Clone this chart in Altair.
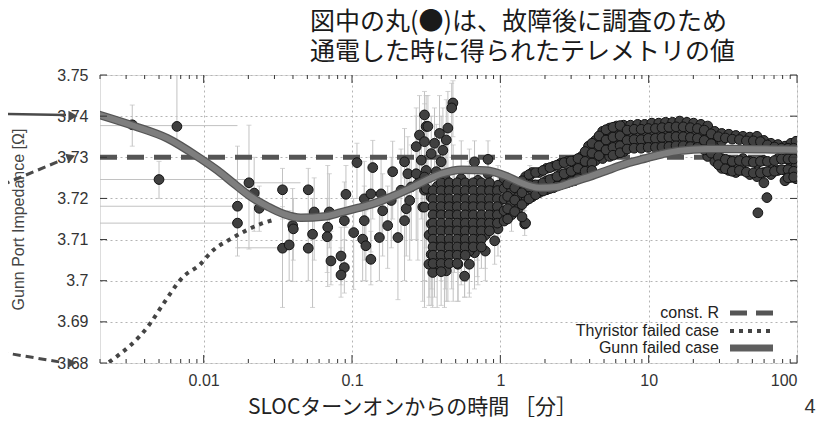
import altair as alt
import pandas as pd

# ---------------- data ----------------
# time since SLOC turn-on [min] and Gunn port impedance [ohm]
# telemetry points with vertical error bars (lo / hi)
pts_t = [0.0033, 0.0066, 0.0050, 0.0202, 0.0219, 0.0169, 0.0169, 0.0237, 0.034, 0.0398,
         0.0402, 0.034, 0.0377, 0.0507, 0.0556, 0.0542, 0.0507, 0.0703, 0.0686, 0.0680,
         0.0721, 0.0843, 0.0888, 0.0843, 0.0910, 0.0888, 0.1026, 0.108, 0.138, 0.118,
         0.124, 0.134, 0.121, 0.134, 0.121, 0.153, 0.157, 0.161, 0.174, 0.184,
         0.188, 0.204, 0.214, 0.226, 0.226, 0.238, 0.232, 0.251, 0.271, 0.271,
         0.285, 0.308, 0.316, 0.308, 0.293, 0.308, 0.300, 0.278, 0.245, 0.479,
         0.470, 0.325, 0.389, 0.443, 0.432, 0.360, 0.342, 0.410, 0.399, 0.316,
         0.370, 0.308, 0.670, 0.826, 0.706, 0.826, 0.964,
         0.316, 0.410, 0.342, 0.308, 0.420, 0.545, 0.670, 0.826, 1.000, 1.190,
         1.460, 1.580, 1.710, 1.460, 0.342, 0.399, 0.491, 0.605, 0.470, 0.574,
         0.745, 0.964, 0.916, 0.360, 0.443, 0.574, 0.706, 0.342, 0.420, 0.518,
         0.670, 0.518, 0.399, 0.432, 0.574, 0.375, 0.481, 0.545, 0.618, 0.700,
         0.792, 0.897, 0.375, 0.481, 0.618, 0.792, 0.897, 0.425, 0.545, 0.700,
         0.792, 0.331, 0.481, 0.618, 0.792, 0.375, 0.618, 0.545, 0.425, 0.700,
         0.330, 0.350]
pts_v = [3.7379, 3.7375, 3.7246, 3.7238, 3.7213, 3.7181, 3.7140, 3.7176, 3.7221, 3.7134,
         3.7126, 3.7079, 3.7087, 3.7221, 3.7167, 3.7113, 3.7079, 3.7167, 3.7130, 3.7107,
         3.7048, 3.7060, 3.7032, 3.7014, 3.7210, 3.7146, 3.7117, 3.7287, 3.7275, 3.7101,
         3.7085, 3.7052, 3.7199, 3.7211, 3.7146, 3.7105, 3.7211, 3.7170, 3.7134, 3.7195,
         3.7265, 3.7105, 3.7220, 3.7146, 3.7289, 3.7260, 3.7175, 3.7228, 3.7260, 3.7326,
         3.7354, 3.7403, 3.7375, 3.7338, 3.7293, 3.7220, 3.7179, 3.7236, 3.7195, 3.7432,
         3.7420, 3.7375, 3.7358, 3.7371, 3.7342, 3.7334, 3.7309, 3.7317, 3.7289, 3.7268,
         3.7265, 3.7252, 3.7289, 3.7295, 3.7244, 3.7260, 3.7232,
         3.7224, 3.7220, 3.7203, 3.7179, 3.7191, 3.7207, 3.7195, 3.7220, 3.7195, 3.7162,
         3.7195, 3.7256, 3.7228, 3.7138, 3.7138, 3.7162, 3.7162, 3.7162, 3.7130, 3.7130,
         3.7130, 3.7126, 3.7097, 3.7097, 3.7089, 3.7089, 3.7089, 3.7064, 3.7060, 3.7064,
         3.7068, 3.7040, 3.7028, 3.7024, 3.7011, 3.7229, 3.7229, 3.7248, 3.7229, 3.7209,
         3.7189, 3.7209, 3.7170, 3.7189, 3.7189, 3.7150, 3.7160, 3.7131, 3.7111, 3.7111,
         3.7111, 3.7111, 3.7072, 3.7072, 3.7072, 3.7052, 3.7040, 3.7150, 3.7248, 3.7150,
         3.7040, 3.7020]
pts_lo = [3.7327, 3.7330, 3.7200, 3.7077, 3.7120, 3.7060, 3.7080, 3.7120, 3.7150, 3.6998,
          3.7050, 3.6935, 3.7000, 3.7150, 3.7050, 3.6935, 3.7000, 3.7080, 3.6986, 3.7020,
          3.6990, 3.6990, 3.6970, 3.6960, 3.7130, 3.7040, 3.6979, 3.7200, 3.7150, 3.7000,
          3.7000, 3.6990, 3.7100, 3.7070, 3.7050, 3.7000, 3.7100, 3.7060, 3.7030, 3.7080,
          3.7150, 3.6954, 3.7100, 3.7000, 3.7180, 3.7150, 3.7060, 3.7100, 3.7100, 3.7200,
          3.7250, 3.7300, 3.7250, 3.7200, 3.7150, 3.6935, 3.6950, 3.7050, 3.7050, 3.7350,
          3.7300, 3.7250, 3.7200, 3.7250, 3.7200, 3.7150, 3.7100, 3.7150, 3.7100, 3.7050,
          3.7050, 3.7000, 3.7200, 3.7220, 3.7150, 3.7180, 3.7150,
          3.7080, 3.7060, 3.7050, 3.7000, 3.7040, 3.7100, 3.7100, 3.7150, 3.7150, 3.7120,
          3.7160, 3.7230, 3.7200, 3.7110, 3.6980, 3.7000, 3.7020, 3.7050, 3.6980, 3.7000,
          3.7030, 3.7060, 3.7040, 3.6960, 3.6950, 3.6960, 3.6990, 3.6940, 3.6935, 3.6950,
          3.6980, 3.6950, 3.6940, 3.6950, 3.6960, 3.7080, 3.7100, 3.7120, 3.7120, 3.7110,
          3.7100, 3.7140, 3.7020, 3.7050, 3.7070, 3.7070, 3.7090, 3.6980, 3.6990, 3.7010,
          3.7030, 3.6960, 3.6950, 3.6970, 3.7000, 3.6935, 3.6960, 3.7020, 3.7100, 3.7050,
          3.6940, 3.6935]
pts_hi = [3.7427, 3.7505, 3.7290, 3.7378, 3.7300, 3.7327, 3.7200, 3.7230, 3.7273, 3.7224,
          3.7200, 3.7180, 3.7170, 3.7273, 3.7250, 3.7200, 3.7150, 3.7260, 3.7280, 3.7200,
          3.7120, 3.7130, 3.7100, 3.7080, 3.7280, 3.7240, 3.7200, 3.7334, 3.7341, 3.7200,
          3.7170, 3.7120, 3.7290, 3.7300, 3.7230, 3.7200, 3.7300, 3.7260, 3.7230, 3.7300,
          3.7339, 3.7200, 3.7320, 3.7250, 3.7370, 3.7350, 3.7280, 3.7330, 3.7400, 3.7420,
          3.7450, 3.7460, 3.7450, 3.7430, 3.7400, 3.7350, 3.7300, 3.7350, 3.7300, 3.7486,
          3.7480, 3.7450, 3.7450, 3.7460, 3.7440, 3.7420, 3.7400, 3.7420, 3.7400, 3.7380,
          3.7380, 3.7360, 3.7340, 3.7340, 3.7300, 3.7300, 3.7280,
          3.7330, 3.7320, 3.7310, 3.7300, 3.7300, 3.7300, 3.7280, 3.7290, 3.7240, 3.7200,
          3.7230, 3.7280, 3.7260, 3.7170, 3.7250, 3.7270, 3.7270, 3.7260, 3.7240, 3.7240,
          3.7220, 3.7190, 3.7160, 3.7200, 3.7200, 3.7200, 3.7180, 3.7170, 3.7170, 3.7170,
          3.7160, 3.7130, 3.7120, 3.7110, 3.7080, 3.7340, 3.7330, 3.7340, 3.7320, 3.7300,
          3.7270, 3.7270, 3.7290, 3.7300, 3.7290, 3.7230, 3.7230, 3.7250, 3.7220, 3.7200,
          3.7190, 3.7230, 3.7180, 3.7170, 3.7150, 3.7160, 3.7120, 3.7260, 3.7360, 3.7240,
          3.7140, 3.7110]

# horizontal error bars of the earliest points
hbar_v = [3.7377, 3.7246, 3.7181, 3.7140, 3.7080, 3.7238]
hbar_lo = [0.002, 0.002, 0.002, 0.002, 0.0169, 0.020]
hbar_hi = [0.0169, 0.0199, 0.0169, 0.0175, 0.033, 0.045]

# dense blob of telemetry points between 0.3 and 1 minute
blob_t = [0.352] * 10 + [0.399] * 12 + [0.452] * 11 + [0.512] * 11 + [0.580] * 10 + \
         [0.657] * 9 + [0.745] * 9 + [0.844] * 7 + [0.955] * 5
blob_v = [3.7219, 3.7199, 3.7180, 3.7160, 3.7140, 3.7121, 3.7101, 3.7082, 3.7062, 3.7042,
          3.7238, 3.7219, 3.7199, 3.7180, 3.7160, 3.7140, 3.7121, 3.7101, 3.7082, 3.7062, 3.7042, 3.7022,
          3.7238, 3.7219, 3.7199, 3.7180, 3.7160, 3.7140, 3.7121, 3.7101, 3.7082, 3.7062, 3.7042,
          3.7238, 3.7219, 3.7199, 3.7180, 3.7160, 3.7140, 3.7121, 3.7101, 3.7082, 3.7062, 3.7042,
          3.7238, 3.7219, 3.7199, 3.7180, 3.7160, 3.7140, 3.7121, 3.7101, 3.7082, 3.7062,
          3.7238, 3.7219, 3.7199, 3.7180, 3.7160, 3.7140, 3.7121, 3.7101, 3.7082,
          3.7238, 3.7219, 3.7199, 3.7180, 3.7160, 3.7140, 3.7121, 3.7101, 3.7082,
          3.7238, 3.7219, 3.7199, 3.7180, 3.7160, 3.7140, 3.7121,
          3.7219, 3.7199, 3.7180, 3.7160, 3.7140]

# dense band of telemetry points after 1 minute
band_t = [1.06, 1.06, 1.06, 1.06, 1.06, 1.19, 1.19, 1.19, 1.32, 1.32, 1.32,
          1.48, 1.48, 1.48, 1.48, 1.64, 1.64, 1.64, 1.83, 1.83, 1.83,
          2.05, 2.05, 2.05, 2.28, 2.28, 2.28, 2.54, 2.54, 2.54, 2.84, 2.84, 2.84,
          3.16, 3.16, 3.16, 3.53, 3.53, 3.53, 3.93, 3.93, 3.93, 3.93,
          4.38, 4.38, 4.38, 4.89, 4.89, 4.89, 4.89, 5.45, 5.45, 5.45, 5.45,
          6.08, 6.08, 6.08, 6.08, 6.78, 6.78, 6.78, 6.78, 7.55, 7.55, 7.55,
          8.43, 8.43, 8.43, 9.40, 9.40, 9.40, 10.5, 10.5, 10.5, 11.7, 11.7, 11.7,
          13.0, 13.0, 13.0, 14.5, 14.5, 14.5, 16.2, 16.2, 16.2, 18.1, 18.1, 18.1,
          20.1, 20.1, 20.1, 22.5, 22.5, 22.5, 25.0, 25.0, 25.0, 25.0,
          27.9, 27.9, 27.9, 31.1, 31.1, 31.1, 31.1, 34.7, 34.7, 34.7,
          38.7, 38.7, 38.7, 43.2, 43.2, 43.2, 48.1, 48.1, 48.1, 53.7, 53.7, 53.7,
          59.8, 59.8, 59.8, 59.8, 66.7, 66.7, 66.7, 74.4, 74.4, 74.4,
          83.0, 83.0, 83.0, 83.0, 91.0, 91.0, 91.0, 91.0, 98.5, 98.5, 98.5, 98.5,
          54.5, 62.7]
band_v = [3.7248, 3.7224, 3.7199, 3.7170, 3.7145, 3.7219, 3.7189, 3.7160, 3.7233, 3.7204, 3.7175,
          3.7253, 3.7224, 3.7194, 3.7140, 3.7263, 3.7233, 3.7204, 3.7263, 3.7233, 3.7214,
          3.7273, 3.7243, 3.7221, 3.7278, 3.7248, 3.7226, 3.7285, 3.7258, 3.7233, 3.7290, 3.7263, 3.7238,
          3.7292, 3.7268, 3.7243, 3.7302, 3.7278, 3.7253, 3.7327, 3.7302, 3.7278, 3.7260,
          3.7341, 3.7317, 3.7292, 3.7363, 3.7339, 3.7314, 3.7297, 3.7371, 3.7346, 3.7322, 3.7302,
          3.7376, 3.7351, 3.7327, 3.7309, 3.7378, 3.7353, 3.7329, 3.7314, 3.7378, 3.7353, 3.7329,
          3.7380, 3.7356, 3.7331, 3.7380, 3.7356, 3.7331, 3.7383, 3.7358, 3.7334, 3.7383, 3.7358, 3.7334,
          3.7385, 3.7361, 3.7336, 3.7385, 3.7361, 3.7336, 3.7388, 3.7363, 3.7339, 3.7385, 3.7361, 3.7336,
          3.7383, 3.7358, 3.7334, 3.7380, 3.7356, 3.7331, 3.7376, 3.7351, 3.7327, 3.7302,
          3.7363, 3.7339, 3.7290, 3.7358, 3.7339, 3.7297, 3.7273, 3.7356, 3.7292, 3.7268,
          3.7353, 3.7287, 3.7263, 3.7351, 3.7297, 3.7268, 3.7349, 3.7290, 3.7258, 3.7351, 3.7285, 3.7253,
          3.7341, 3.7292, 3.7263, 3.7238, 3.7334, 3.7287, 3.7258, 3.7331, 3.7297, 3.7268,
          3.7327, 3.7297, 3.7268, 3.7243, 3.7334, 3.7309, 3.7280, 3.7251, 3.7339, 3.7309, 3.7280, 3.7248,
          3.7165, 3.7202]
# staggered dots that fill the band
band2_t = [1.12] * 4 + [1.25] * 3 + [1.40] * 4 + [1.56] * 3 + [1.73] * 3 + [1.94] * 3 + \
          [2.16] * 3 + [2.41] * 3 + [2.69] * 3 + [3.00] * 3 + [3.34] * 3 + [3.73] * 3 + \
          [4.15] * 4 + [4.63] * 3 + [5.16] * 3 + [5.75] * 4 + [6.42] * 4 + [7.16] * 3 + \
          [7.98] * 3 + [8.90] * 3 + [9.93] * 3 + [11.1] * 3 + [12.3] * 3 + [13.7] * 3 + \
          [15.3] * 3 + [17.1] * 3 + [19.1] * 3 + [21.3] * 3 + [23.7] * 3 + [26.4] * 3 + \
          [29.5] * 3 + [32.9] * 3 + [36.6] * 3 + [40.9] * 3 + [45.6] * 3 + [50.8] * 3 + \
          [56.7] * 3 + [63.2] * 3 + [70.5] * 3 + [78.6] * 3 + [87.0] * 4 + [95.0] * 4
band2_v = [3.7235, 3.7205, 3.7175, 3.7150, 3.7226, 3.7196, 3.7168,
           3.7243, 3.7214, 3.7185, 3.7155, 3.7258, 3.7228, 3.7199, 3.7263, 3.7233, 3.7209,
           3.7268, 3.7238, 3.7218, 3.7275, 3.7246, 3.7224, 3.7281, 3.7253, 3.7230,
           3.7287, 3.7260, 3.7236, 3.7291, 3.7266, 3.7241, 3.7297, 3.7273, 3.7248,
           3.7314, 3.7290, 3.7266, 3.7334, 3.7310, 3.7286, 3.7268, 3.7352, 3.7328, 3.7304,
           3.7367, 3.7342, 3.7318, 3.7373, 3.7349, 3.7324, 3.7305, 3.7377, 3.7352, 3.7328, 3.7311,
           3.7366, 3.7341, 3.7320, 3.7368, 3.7343, 3.7322, 3.7368, 3.7343, 3.7322,
           3.7370, 3.7346, 3.7324, 3.7370, 3.7346, 3.7324, 3.7372, 3.7348, 3.7325,
           3.7373, 3.7349, 3.7326, 3.7374, 3.7350, 3.7328, 3.7374, 3.7350, 3.7328,
           3.7372, 3.7348, 3.7326, 3.7370, 3.7346, 3.7324, 3.7366, 3.7341, 3.7318,
           3.7357, 3.7333, 3.7310, 3.7350, 3.7300, 3.7282, 3.7347, 3.7295, 3.7272,
           3.7344, 3.7290, 3.7266, 3.7343, 3.7292, 3.7268, 3.7340, 3.7290, 3.7264,
           3.7340, 3.7288, 3.7262, 3.7338, 3.7290, 3.7262, 3.7330, 3.7290, 3.7265,
           3.7325, 3.7292, 3.7266, 3.7322, 3.7296, 3.7270, 3.7322, 3.7296, 3.7270, 3.7250,
           3.7322, 3.7296, 3.7266, 3.7252]

# model curves
gunn_t = [0.0019, 0.0034, 0.0057, 0.0095, 0.0124, 0.016, 0.0208, 0.0271, 0.0347, 0.0452,
          0.0647, 0.0843, 0.110, 0.141, 0.184, 0.238, 0.308, 0.40, 0.55, 0.80,
          1.1, 1.34, 1.83, 2.4, 3.07, 4.0, 5.7, 7.4, 9.7, 12.4,
          16.2, 25.0, 40.0, 70.0, 105.0]
gunn_v = [3.7405, 3.7376, 3.7346, 3.7297, 3.7268, 3.7236, 3.7204, 3.7180, 3.7162, 3.7153,
          3.7156, 3.7166, 3.7177, 3.7188, 3.7204, 3.7222, 3.7242, 3.7260, 3.7270, 3.7268,
          3.7254, 3.7240, 3.7226, 3.7228, 3.7240, 3.7253, 3.7273, 3.7287, 3.7298, 3.7308,
          3.7316, 3.7320, 3.7320, 3.7319, 3.7318]
thy_t = [0.0023, 0.0044, 0.0053, 0.0073, 0.0095, 0.0112, 0.016, 0.0243, 0.0297]
thy_v = [3.6802, 3.6898, 3.6942, 3.7010, 3.7040, 3.7069, 3.7106, 3.7138, 3.7148]
constr_t = [0.002, 100.0]
constr_v = [3.73, 3.73]

# axes
x_major = [0.01, 0.1, 1, 10, 100]
x_minor = [0.002, 0.003, 0.004, 0.005, 0.006, 0.007, 0.008, 0.009,
           0.02, 0.03, 0.04, 0.05, 0.06, 0.07, 0.08, 0.09,
           0.2, 0.3, 0.4, 0.5, 0.6, 0.7, 0.8, 0.9,
           2, 3, 4, 5, 6, 7, 8, 9,
           20, 30, 40, 50, 60, 70, 80, 90]
y_ticks = [3.68, 3.69, 3.70, 3.71, 3.72, 3.73, 3.74, 3.75]
legend_labels = ["const. R", "Thyristor failed case", "Gunn failed case"]
title_lines = ["図中の丸(●)は、故障後に調査のため", "通電した時に得られたテレメトリの値"]
x_title = "SLOCターンオンからの時間 ［分］"
y_title = "Gunn Port Impedance [Ω]"
page_no = "4"

# ---------------- chart ----------------
W, H = 697, 288
FONT = "Liberation Sans"
JFONT = "Noto Sans CJK JP"

xs = alt.Scale(type="log", domain=[0.002, 100], nice=False)
ys = alt.Scale(domain=[3.68, 3.75], zero=False, nice=False)

x_axis = alt.Axis(values=x_major, format="~g", title=x_title, grid=True, ticks=False, tickSize=0,
                  domain=False, labelFont=FONT, labelFontSize=16, labelColor="#333",
                  labelPadding=9, gridColor="#b4b4b4", gridDash=[2, 3], gridWidth=1,
                  titleFont=JFONT, titleFontSize=21, titleFontWeight="normal", titleColor="#222",
                  titleX=312, titleY=44, titleAlign="center", titleBaseline="middle")
y_axis = alt.Axis(values=y_ticks, format=".3~g", title=y_title, grid=True, ticks=False, tickSize=0,
                  domain=False, labelFont=FONT, labelFontSize=16, labelColor="#333",
                  labelPadding=12, gridColor="#b4b4b4", gridDash=[2, 3], gridWidth=1,
                  titleFont=FONT, titleFontSize=16, titleFontWeight="normal", titleColor="#444",
                  titleX=-82, titleY=H / 2, titleAlign="center", titleBaseline="middle",
                  titleAngle=270)

X = alt.X("t:Q", scale=xs, axis=x_axis)
Y = alt.Y("v:Q", scale=ys, axis=y_axis)

pts = pd.DataFrame({"t": pts_t, "v": pts_v, "lo": pts_lo, "hi": pts_hi})
hb = pd.DataFrame({"v": hbar_v, "tlo": hbar_lo, "thi": hbar_hi})
dots = pd.DataFrame({"t": pts_t + blob_t + band_t + band2_t,
                     "v": pts_v + blob_v + band_v + band2_v})
gunn = pd.DataFrame({"t": gunn_t, "v": gunn_v})
thy = pd.DataFrame({"t": thy_t, "v": thy_v})
constr = pd.DataFrame({"t": constr_t, "v": constr_v})

ERR = "#c2c2c2"
err_v = alt.Chart(pts).mark_rule(color=ERR, strokeWidth=1, clip=True).encode(
    x=X, y=alt.Y("lo:Q", scale=ys, axis=y_axis), y2="hi:Q")
cap_lo = alt.Chart(pts).mark_tick(color=ERR, orient="horizontal", size=5, thickness=1, clip=True).encode(
    x=X, y=alt.Y("lo:Q", scale=ys, axis=y_axis))
cap_hi = alt.Chart(pts).mark_tick(color=ERR, orient="horizontal", size=5, thickness=1, clip=True).encode(
    x=X, y=alt.Y("hi:Q", scale=ys, axis=y_axis))
err_h = alt.Chart(hb).mark_rule(color=ERR, strokeWidth=1, clip=True).encode(
    x=alt.X("tlo:Q", scale=xs, axis=x_axis), x2="thi:Q", y=Y)

constr_line = alt.Chart(constr).mark_line(color="#555555", strokeWidth=5, strokeDash=[17, 10],
                                          clip=True).encode(x=X, y=Y)
thy_line = alt.Chart(thy).mark_line(color="#444444", strokeWidth=4, strokeDash=[4, 5],
                                    strokeCap="butt", interpolate="monotone", clip=True).encode(x=X, y=Y)

dots_layer = alt.Chart(dots).mark_point(shape="circle", filled=True, size=95, color="#404040",
                                        stroke="#121212", strokeWidth=1, opacity=1,
                                        clip=True).encode(x=X, y=Y)

gunn_outer = alt.Chart(gunn).mark_line(color="#565656", strokeWidth=8.5, interpolate="monotone",
                                       clip=True).encode(x=X, y=Y)
gunn_inner = alt.Chart(gunn).mark_line(color="#7e7e7e", strokeWidth=6, interpolate="monotone",
                                       clip=True).encode(x=X, y=Y)

# inward tick marks on all four sides
ytk = pd.DataFrame({"v": y_ticks})
xmaj = pd.DataFrame({"t": x_major})
xmin = pd.DataFrame({"t": x_minor})
TK = dict(color="#333333", strokeWidth=1)
yt_l = alt.Chart(ytk).mark_rule(**TK).encode(y=Y, x=alt.value(0), x2=alt.value(7))
yt_r = alt.Chart(ytk).mark_rule(**TK).encode(y=Y, x=alt.value(W - 7), x2=alt.value(W))
xt_b = alt.Chart(xmaj).mark_rule(**TK).encode(x=X, y=alt.value(H - 8), y2=alt.value(H))
xt_t = alt.Chart(xmaj).mark_rule(**TK).encode(x=X, y=alt.value(0), y2=alt.value(8))
xm_b = alt.Chart(xmin).mark_rule(**TK).encode(x=X, y=alt.value(H - 4), y2=alt.value(H))
xm_t = alt.Chart(xmin).mark_rule(**TK).encode(x=X, y=alt.value(0), y2=alt.value(4))

# legend (inside, lower right; labels left of samples)
one = pd.DataFrame({"k": [0]})
LX_TXT, LX0, LX1 = 619, 630, 673
LY = [238, 256, 273]
leg = []
for lab, yy in zip(legend_labels, LY):
    leg.append(alt.Chart(one).mark_text(align="right", baseline="middle", font=FONT, fontSize=16,
                                        color="#222").encode(x=alt.value(LX_TXT), y=alt.value(yy),
                                                             text=alt.value(lab)))
leg.append(alt.Chart(one).mark_rule(color="#555555", strokeWidth=5, strokeDash=[17, 9]).encode(
    x=alt.value(LX0), x2=alt.value(LX1), y=alt.value(LY[0])))
leg.append(alt.Chart(one).mark_rule(color="#444444", strokeWidth=4, strokeDash=[4, 5]).encode(
    x=alt.value(LX0), x2=alt.value(LX1), y=alt.value(LY[1])))
leg.append(alt.Chart(one).mark_rule(color="#5e5e5e", strokeWidth=7).encode(
    x=alt.value(LX0), x2=alt.value(LX1), y=alt.value(LY[2])))

# slide heading (two lines above the plot)
heading = [
    alt.Chart(one).mark_text(align="left", baseline="middle", font=JFONT, fontSize=25,
                             color="#1a1a1a").encode(x=alt.value(210), y=alt.value(yy),
                                                     text=alt.value(line))
    for line, yy in zip(title_lines, [-53, -23])
]

# slide annotations: arrows on the left and the page number
AR = "#4a4a4a"
ann = [
    alt.Chart(one).mark_rule(color=AR, strokeWidth=2.5).encode(
        x=alt.value(-100), x2=alt.value(-34), y=alt.value(39), y2=alt.value(40)),
    alt.Chart(one).mark_point(shape="triangle-right", filled=True, size=110, color=AR, opacity=1).encode(
        x=alt.value(-27), y=alt.value(41)),
    alt.Chart(one).mark_rule(color=AR, strokeWidth=3, strokeDash=[8, 5]).encode(
        x=alt.value(-98), x2=alt.value(-38), y=alt.value(110), y2=alt.value(85)),
    alt.Chart(one).mark_point(shape="triangle-right", filled=True, size=100, color=AR, opacity=1,
                              angle=340).encode(x=alt.value(-29), y=alt.value(82)),
    alt.Chart(one).mark_rule(color=AR, strokeWidth=3, strokeDash=[8, 5]).encode(
        x=alt.value(-100), x2=alt.value(-40), y=alt.value(277), y2=alt.value(287)),
    alt.Chart(one).mark_point(shape="triangle-right", filled=True, size=100, color=AR, opacity=1).encode(
        x=alt.value(-28), y=alt.value(288)),
    alt.Chart(one).mark_text(align="center", baseline="middle", font=FONT, fontSize=20,
                             color="#333").encode(x=alt.value(710), y=alt.value(332),
                                                  text=alt.value(page_no)),
]

chart = alt.layer(
    err_v, cap_lo, cap_hi, err_h,
    constr_line, thy_line,
    dots_layer,
    gunn_outer, gunn_inner,
    yt_l, yt_r, xt_b, xt_t, xm_b, xm_t,
    *leg, *heading, *ann,
).properties(
    width=W, height=H,
    autosize=alt.AutoSizeParams(type="none"),
    padding={"left": 92, "top": 67, "right": 31, "bottom": 57},
).configure_view(
    stroke="#333333", strokeWidth=1
).configure(background="white")

chart.save("out.html", embed_options={"renderer": "svg", "actions": False})
